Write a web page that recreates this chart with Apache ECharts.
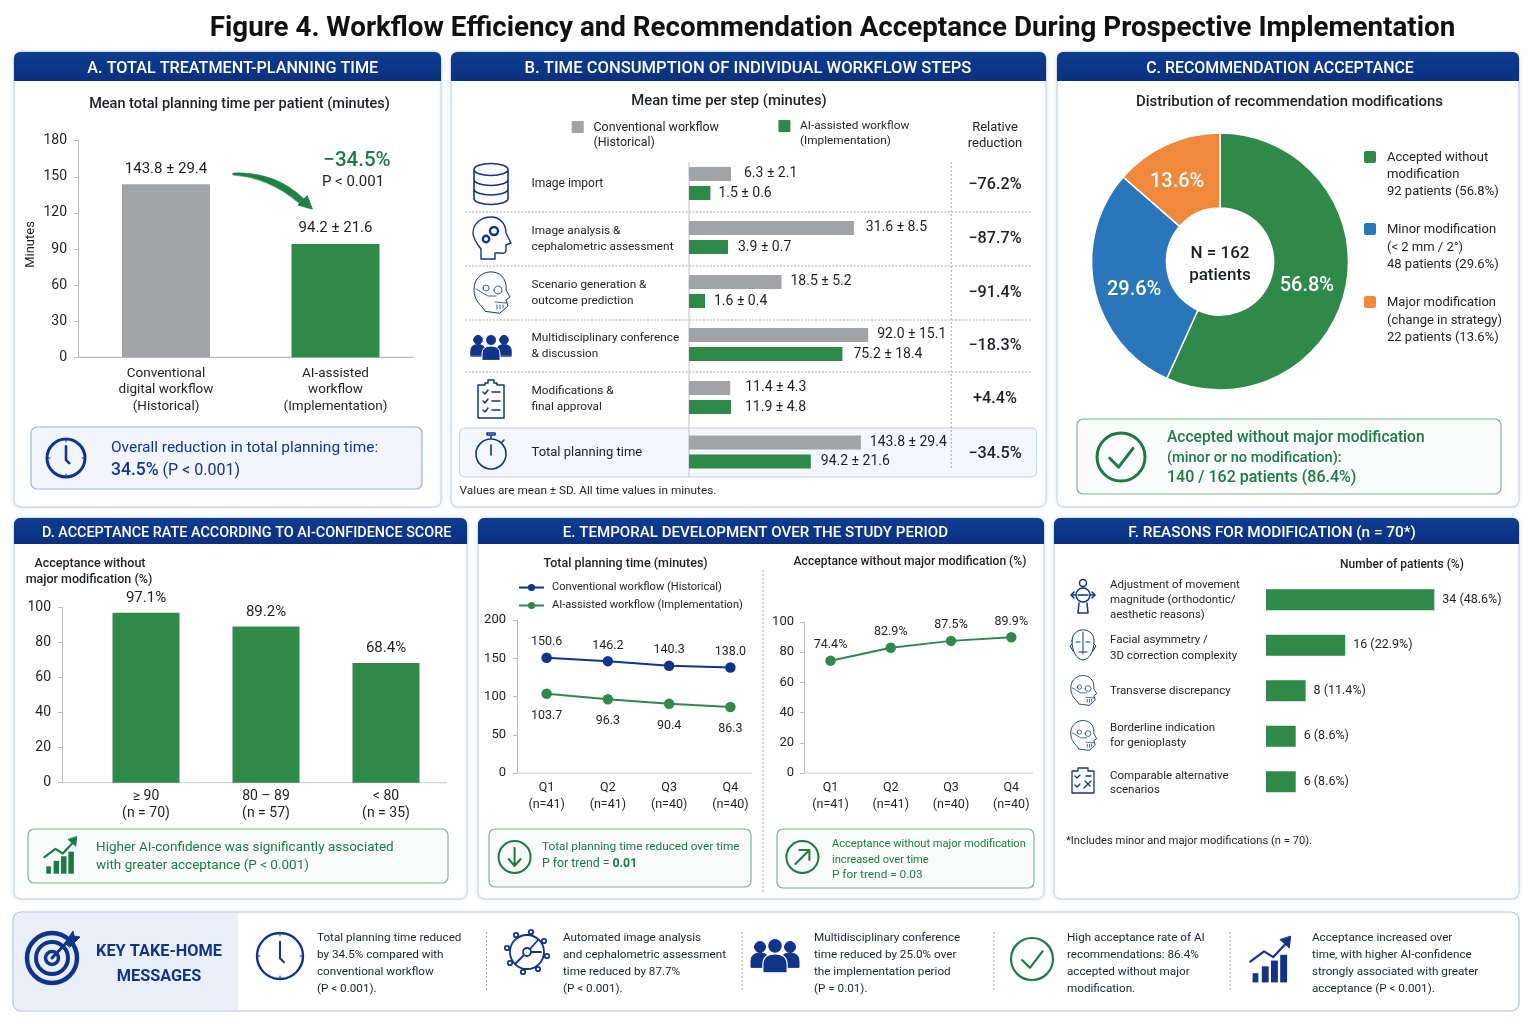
<!DOCTYPE html>
<html><head><meta charset="utf-8"><title>Figure 4</title>
<script src="https://cdn.jsdelivr.net/npm/echarts@6/dist/echarts.min.js"></script>
<style>html,body{margin:0;padding:0;background:#fff}#c{width:1536px;height:1024px}</style></head>
<body><div id="c"></div>
<script>
// ---------- DATA ----------
const figureTitle = 'Figure 4. Workflow Efficiency and Recommendation Acceptance During Prospective Implementation';
const totalCats = ['Conventional\ndigital workflow\n(Historical)', 'AI-assisted\nworkflow\n(Implementation)'];
const totalMeans = [143.8, 94.2];
const totalSDs = [29.4, 21.6];
const stepNames = [['Image import'], ['Image analysis &', 'cephalometric assessment'], ['Scenario generation &', 'outcome prediction'], ['Multidisciplinary conference', '& discussion'], ['Modifications &', 'final approval'], ['Total planning time']];
const stepConvMeans = [6.3, 31.6, 18.5, 92.0, 11.4, 143.8];
const stepConvSDs = [2.1, 8.5, 5.2, 15.1, 4.3, 29.4];
const stepAIMeans = [1.5, 3.9, 1.6, 75.2, 11.9, 94.2];
const stepAISDs = [0.6, 0.7, 0.4, 18.4, 4.8, 21.6];
const stepReductions = ['−76.2%', '−87.7%', '−91.4%', '−18.3%', '+4.4%', '−34.5%'];
const acceptNames = ['Accepted without modification', 'Minor modification', 'Major modification'];
const acceptCounts = [92, 48, 22];
const acceptPct = ['56.8%', '29.6%', '13.6%'];
const acceptLegend = [['Accepted without', 'modification', '92 patients (56.8%)'], ['Minor modification', '(< 2 mm / 2°)', '48 patients (29.6%)'], ['Major modification', '(change in strategy)', '22 patients (13.6%)']];
const confCats = ['≥ 90\n(n = 70)', '80 – 89\n(n = 57)', '< 80\n(n = 35)'];
const confRates = [97.1, 89.2, 68.4];
const quarterCats = ['Q1\n(n=41)', 'Q2\n(n=41)', 'Q3\n(n=40)', 'Q4\n(n=40)'];
const timeConv = [150.6, 146.2, 140.3, 138.0];
const timeAI = [103.7, 96.3, 90.4, 86.3];
const acceptTrend = [74.4, 82.9, 87.5, 89.9];
const reasonNames = [['Adjustment of movement', 'magnitude (orthodontic/', 'aesthetic reasons)'], ['Facial asymmetry /', '3D correction complexity'], ['Transverse discrepancy'], ['Borderline indication', 'for genioplasty'], ['Comparable alternative', 'scenarios']];
const reasonCounts = [34, 16, 8, 6, 6];
const reasonPct = ['48.6%', '22.9%', '11.4%', '8.6%', '8.6%'];
const takeHome = [
  ['Total planning time reduced', 'by 34.5% compared with', 'conventional workflow', '(P < 0.001).'],
  ['Automated image analysis', 'and cephalometric assessment', 'time reduced by 87.7%', '(P < 0.001).'],
  ['Multidisciplinary conference', 'time reduced by 25.0% over', 'the implementation period', '(P = 0.01).'],
  ['High acceptance rate of AI', 'recommendations: 86.4%', 'accepted without major', 'modification.'],
  ['Acceptance increased over', 'time, with higher AI-confidence', 'strongly associated with greater', 'acceptance (P < 0.001).']
];

// ---------- STYLE ----------
const FONT = 'Roboto, "Noto Sans", sans-serif';
const NAVY = '#11338a', GREEN = '#2f8a4a', GREY = '#a1a3a7', BLUE = '#2a76bb', ORANGE = '#f0893b', DGREEN = '#1d7a45', INK = '#1c1f26', AXIS = '#b9bcc2';
const g = [];
let pathCount = 0;
const T = (s, x, y, size, o = {}) => g.push({ type: 'text', silent: true, x, y: y + 1.5, style: { text: s, fontSize: size, fontFamily: FONT, fontWeight: o.w || 400, fill: o.c || INK, align: o.a || 'left', verticalAlign: 'middle', rich: o.rich } });
const R = (x, y, w, h, o = {}) => g.push({ type: 'rect', silent: true, shape: { x, y, width: w, height: h, r: o.r || 0 }, style: { fill: o.f || 'none', stroke: o.s || null, lineWidth: o.lw || 1, shadowBlur: o.sb || 0, shadowColor: o.sc || 'transparent' } });
const L = (x1, y1, x2, y2, o = {}) => g.push({ type: 'line', silent: true, shape: { x1, y1, x2, y2 }, style: { stroke: o.s || AXIS, lineWidth: o.lw || 1, lineDash: o.d || null } });
const P = (d, x, y, o = {}) => {
  const name = 'iconPath' + (pathCount++);
  echarts.graphic.registerShape(name, echarts.graphic.extendPath(d));
  g.push({ type: name, silent: true, x, y, style: { fill: o.f || 'none', stroke: o.s === undefined ? NAVY : o.s, lineWidth: o.lw === undefined ? 1.5 : o.lw, lineCap: 'round', lineJoin: 'round' } });
};
const circ = (cx, cy, r) => `M${cx - r},${cy} a${r},${r} 0 1,0 ${2 * r},0 a${r},${r} 0 1,0 ${-2 * r},0 Z`;
const person = (x, y, s) => circ(x, y - 9 * s, 5.5 * s) + `M${x - 9 * s},${y + 11 * s} V${y + 5 * s} Q${x - 9 * s},${y - 3 * s} ${x},${y - 3 * s} Q${x + 9 * s},${y - 3 * s} ${x + 9 * s},${y + 5 * s} V${y + 11 * s} Z`;

function panel(x, y, w, h, head, hh, cx, fs) {
  R(x, y, w, h, { f: '#fff', s: '#bfd0ea', r: 7, sb: 4, sc: 'rgba(120,150,200,.25)' });
  g.push({ type: 'rect', silent: true, shape: { x, y, width: w, height: hh, r: [6, 6, 0, 0] }, style: { fill: new echarts.graphic.LinearGradient(0, 0, 0, 1, [{ offset: 0, color: '#0e3d91' }, { offset: 1, color: '#0b3080' }]) } });
  T(head, cx, y + hh / 2 + 0.7, fs, { w: 500, c: '#fff', a: 'center' });
}
const callout = (x, y, w, h, green) => R(x, y, w, h, { f: green ? '#f8fbf9' : '#f2f6fb', s: green ? '#7db492' : '#97b5de', r: 6, lw: 1.2 });

function clock(x, y, r, lw) {
  P(circ(0, 0, r), x, y, { lw });
  P(`M0,${-r * .62} L0,${r * .1} L${r * .17},${r * .27}`, x, y, { lw: lw * .85 });
  P(`M0,${-r} V${-r + 3} M0,${r} V${r - 3} M${-r},0 H${-r + 3} M${r},0 H${r - 3}`, x, y, { lw: 1 });
}
function checkCircle(x, y, r, lw) {
  P(circ(0, 0, r), x, y, { s: DGREEN, lw });
  P(`M${-r * .47},${r * .05} L${-r * .1},${r * .42} L${r * .5},${-r * .36}`, x, y, { s: DGREEN, lw });
}
function barsUp(x, y, c, s) {
  const b = [[-16, 8, 5], [-8, 2, 6], [0, -3, 6], [8, -8, 6]];
  b.forEach(a => R(x + a[0] * s, y + a[1] * s, a[2] * s, (16 - a[1]) * s, { f: c }));
  P(`M${-18 * s},${-2 * s} L${-6 * s},${-11 * s} L${2 * s},${-6 * s} L${15 * s},${-20 * s}`, x, y, { s: c, lw: 2.2 });
  P(`M${17 * s},${-24 * s} L${16 * s},${-14 * s} L${8 * s},${-21 * s} Z`, x, y, { s: c, f: c, lw: 1 });
}
function headProfile(x, y, lw) {
  P('M-10,21 V11 C-14,6 -18,1 -18,-5 C-18,-15 -9,-21 0,-21 C10,-21 15,-13 15,-5 L20,5 L15,7 V12 Q15,16 10,15 L4,15 V21 H-10', x, y, { lw });
}
function skull(x, y, s, lw) {
  const k = v => v * s;
  P(`M${k(-6)},${k(19)} C${k(-10)},${k(12)} ${k(-17)},${k(10)} ${k(-17)},${k(-3)} C${k(-17)},${k(-15)} ${k(-7)},${k(-21)} ${k(2)},${k(-20)} C${k(12)},${k(-19)} ${k(16)},${k(-10)} ${k(15)},${k(-2)} L${k(19)},${k(5)} L${k(15)},${k(8)} L${k(17)},${k(14)} L${k(9)},${k(21)} Z`, x, y, { lw });
  P(`${circ(k(7), k(-2), k(4))} ${circ(k(-5), k(-4), k(3))} M${k(-15)},${k(-3)} L${k(-3)},${k(4)} L${k(5)},${k(4)} M${k(4)},${k(10)} L${k(15)},${k(11)} M${k(6)},${k(13)} V${k(17)} M${k(9)},${k(13)} V${k(17)} M${k(12)},${k(13)} V${k(16)}`, x, y, { lw: lw * .8 });
}

// ---------- CANVAS FRAME ----------
T(figureTitle, 832.5, 27.5, 27.75, { w: 700, c: '#111', a: 'center' });
panel(14, 52, 427, 455, 'A. TOTAL TREATMENT-PLANNING TIME', 29, 232.8, 16.2);
panel(451, 52, 595, 455, 'B. TIME CONSUMPTION OF INDIVIDUAL WORKFLOW STEPS', 29, 748, 16.6);
panel(1057, 52, 462, 455, 'C. RECOMMENDATION ACCEPTANCE', 29, 1280, 15.9);
panel(14, 518, 453, 381, 'D. ACCEPTANCE RATE ACCORDING TO AI-CONFIDENCE SCORE', 26, 246.7, 14.4);
panel(478, 518, 566, 381, 'E. TEMPORAL DEVELOPMENT OVER THE STUDY PERIOD', 26, 755.4, 15.1);
panel(1054, 518, 465, 381, 'F. REASONS FOR MODIFICATION (n = 70*)', 26, 1272, 15.3);

// ---------- ECHARTS CONTAINERS ----------
const grid = [], xAxis = [], yAxis = [], series = [];
const tickLab = (size, margin) => ({ color: INK, fontSize: size, fontFamily: FONT, margin });
function vertGrid(left, width, top, height, max, interval, cats, opts) {
  const idx = grid.length;
  grid.push({ left, width, top, height });
  xAxis.push({ gridIndex: idx, type: 'category', data: cats, axisLine: { show: false }, axisTick: { show: false }, axisLabel: { ...tickLab(opts.xFont, opts.xMargin), lineHeight: opts.lh, interval: 0 } });
  yAxis.push({ gridIndex: idx, type: 'value', min: 0, max, interval, offset: opts.off, axisLine: { show: true, lineStyle: { color: AXIS } }, axisTick: { show: true, length: 4, lineStyle: { color: AXIS } }, splitLine: { show: false }, axisLabel: tickLab(opts.yFont, opts.yMargin) });
  return { x: xAxis.length - 1, y: yAxis.length - 1 };
}

// Panel A
T('Mean total planning time per patient (minutes)', 239.5, 103, 14.5, { w: 500, a: 'center' });
const ga = vertGrid(81.25, 339, 140.7, 216.6, 180, 30, totalCats, { off: 3.25, xFont: 13.5, xMargin: 8, lh: 16.5, yFont: 14, yMargin: 11 });
L(78, 357.3, 414, 357.3, { s: '#a9acb2' });
T('Minutes', 31, 243, 13);
g[g.length - 1].rotation = Math.PI / 2; g[g.length - 1].style.align = 'center';
series.push({ type: 'bar', name: 'Total planning time', xAxisIndex: ga.x, yAxisIndex: ga.y, barWidth: 88, z: 3,
  data: totalMeans.map((v, i) => ({ value: v, itemStyle: { color: i ? GREEN : GREY } })),
  label: { show: true, position: 'top', distance: 8, color: INK, fontSize: 15, fontFamily: FONT, formatter: p => `${totalMeans[p.dataIndex].toFixed(1)} ± ${totalSDs[p.dataIndex].toFixed(1)}` } });
T('−34.5%', 357, 159, 20.5, { w: 500, c: DGREEN, a: 'center' });
T('P < 0.001', 353, 181, 15, { a: 'center' });
P('M233,173 Q275,171 304,199 L299,203 Q268,177 233,175 Z', 0, 0, { s: '#1f8045', f: '#1f8045', lw: .5 });
P('M312,209 L298,205 L307,196 Z', 0, 0, { s: '#1f8045', f: '#1f8045', lw: 1 });
callout(31, 427, 391, 62);
clock(66, 458, 19, 3);
T('Overall reduction in total planning time:', 111, 447, 15.45, { c: NAVY });
T('{a|34.5%} {b|(P < 0.001)}', 111, 469, 16, { rich: { a: { fontSize: 17.5, fontWeight: 500, fill: NAVY, color: NAVY, fontFamily: FONT }, b: { fontSize: 16, fill: NAVY, color: NAVY, fontFamily: FONT } } });

// Panel B
T('Mean time per step (minutes)', 729, 100, 14.8, { w: 500, a: 'center' });
R(571.7, 121, 12, 12, { f: GREY, r: 1 }); R(778.4, 120, 12, 12, { f: GREEN, r: 1 });
T('Conventional workflow', 593.5, 126, 12.4); T('(Historical)', 593.5, 141, 12.4);
T('AI-assisted workflow', 800, 125, 11.8); T('(Implementation)', 800, 140, 11.8);
T('Relative', 995, 126, 13, { a: 'center' }); T('reduction', 995, 142, 13, { a: 'center' });
R(459.6, 428, 577, 49, { f: '#f3f6fb', s: '#bcd0ea', r: 5 });
[212, 266, 320, 372].forEach(y => L(465, y, 1030.5, y, { s: '#a8abb0', d: [2, 1.5] }));
L(689, 162, 689, 477, { s: '#c9cbd0', lw: 1.2 });
L(951.3, 162, 951.3, 470, { s: '#a8abb0', d: [2, 2] });
const rowY = [183.5, 237.5, 291.5, 344.5, 397.5, 452];
// The reference draws every bar of this table on its own unlabelled scale, so each bar has a hidden axis.
const hiddenMaxConv = [45, 57.5, 60, 154, 83, 251], hiddenMaxAI = [21, 30, 30, 147, 85, 232];
const convLabelGap = [13, 12, 9, 9, 15, 9], aiLabelGap = [8, 10, 9, 11, 14, 10];
stepNames.forEach((nm, r) => {
  const gi = grid.length, x0 = xAxis.length, y0 = yAxis.length;
  grid.push({ left: 689, width: 300, top: rowY[r] - 21, height: 42 });
  xAxis.push({ gridIndex: gi, type: 'value', min: 0, max: hiddenMaxConv[r], show: false, position: 'bottom' }, { gridIndex: gi, type: 'value', min: 0, max: hiddenMaxAI[r], show: false, position: 'top' });
  yAxis.push({ gridIndex: gi, type: 'category', inverse: true, show: false, data: [nm.join(' ')] });
  const lab = (m, s, dist) => ({ show: true, position: 'right', distance: dist, color: INK, fontSize: 14, fontFamily: FONT, formatter: `${m.toFixed(1)} ± ${s.toFixed(1)}` });
  series.push({ type: 'bar', name: 'Conventional workflow', xAxisIndex: x0, yAxisIndex: y0, barWidth: 14, barGap: '36%', z: 3, data: [stepConvMeans[r]], itemStyle: { color: GREY }, label: lab(stepConvMeans[r], stepConvSDs[r], convLabelGap[r]) });
  series.push({ type: 'bar', name: 'AI-assisted workflow', xAxisIndex: x0 + 1, yAxisIndex: y0, barWidth: 14, barGap: '36%', z: 3, data: [stepAIMeans[r]], itemStyle: { color: GREEN }, label: lab(stepAIMeans[r], stepAISDs[r], aiLabelGap[r]) });
  const y = rowY[r];
  if (nm.length === 1) T(nm[0], 531.5, y - 1, r === 5 ? 13 : 12);
  else { T(nm[0], 531.5, y - 7.5, 11.8); T(nm[1], 531.5, y + 8, 11.8); }
  T(stepReductions[r], 995, y, 16.2, { w: 500, a: 'center' });
});
T('Values are mean ± SD. All time values in minutes.', 459.6, 490, 11.8);
// B icons
P('M-17,-14.5 a17,6 0 1,0 34,0 a17,6 0 1,0 -34,0 M-17,-14.5 V14.5 a17,6 0 0,0 34,0 V-14.5 M-17,-4.5 a17,6 0 0,0 34,0 M-17,5 a17,6 0 0,0 34,0', 491, 184, { lw: 1.6 });
headProfile(491, 238, 1.4);
P(`${circ(3, -7, 4)} ${circ(-5, 1, 3.2)}`, 491, 238, { lw: 2.4 });
skull(491, 292, 1, 1);
P(person(-13, 2, .8) + person(13, 2, .8), 491, 345, { f: NAVY, s: NAVY, lw: 1 });
P(person(0, 4, 1), 491, 345, { f: NAVY, s: '#fff', lw: 1 });
P('M-13,-13 H-6 V-15 H-3 V-18 H3 V-15 H6 V-13 H13 V20 H-13 Z M-8,-6 L-6,-4 L-3,-8 M-8,3 L-6,5 L-3,1 M-8,12 L-6,14 L-3,10 M1,-6 H9 M1,3 H9 M1,12 H9', 491, 398, { lw: 1.5 });
P(circ(0, 3, 15) + ' M0,-12 V-16 M-4,-18 H4 V-16 H-4 Z M11,-9 L13,-11 M0,-6 V4', 491, 451, { lw: 1.6 });

// Panel C
T('Distribution of recommendation modifications', 1289.5, 101, 14.9, { w: 500, a: 'center' });
const pieLabelShift = [[-5, 5], [6, 9], [-4, 6]];
series.push({ type: 'pie', name: 'Recommendation acceptance', center: [1220, 261.5], radius: [53.5, 128.5], startAngle: 90, clockwise: true, z: 3,
  itemStyle: { borderColor: '#fff', borderWidth: 1.5 }, emphasis: { disabled: true }, labelLine: { show: false },
  label: { show: true, position: 'inside', color: '#fff', fontSize: 20, fontWeight: 500, fontFamily: FONT, formatter: p => acceptPct[p.dataIndex] },
  labelLayout: p => ({ dx: pieLabelShift[p.dataIndex][0], dy: pieLabelShift[p.dataIndex][1] }),
  data: acceptNames.map((n, i) => ({ name: n, value: acceptCounts[i], itemStyle: { color: [GREEN, BLUE, ORANGE][i] } })) });
T('N = 162', 1220, 252, 17, { w: 500, a: 'center' });
T('patients', 1220, 274, 17, { w: 500, a: 'center' });
[[157, [156, 173, 190]], [229, [228, 246, 263]], [302, [301, 319, 336]]].forEach((a, i) => {
  R(1364, a[0] - 6, 12, 12, { f: [GREEN, BLUE, ORANGE][i], r: 2 });
  acceptLegend[i].forEach((s, k) => T(s, 1387, a[1][k], 13));
});
callout(1077, 419, 424, 75, true);
checkCircle(1121, 457, 24, 3);
T('Accepted without major modification', 1167, 437, 15.6, { w: 500, c: DGREEN });
T('(minor or no modification):', 1167, 457, 14.6, { w: 500, c: DGREEN });
T('140 / 162 patients (86.4%)', 1167, 476, 16, { w: 500, c: DGREEN });

// Panel D
T('Acceptance without', 90, 562, 12.5, { w: 500, a: 'center' });
T('major modification (%)', 89, 578, 12.5, { w: 500, a: 'center' });
const gd = vertGrid(86, 360, 607.7, 175, 100, 20, confCats, { off: 24, xFont: 14, xMargin: 5, lh: 17, yFont: 14, yMargin: 11 });
L(62, 782.7, 447, 782.7, { s: '#c3c5ca' });
series.push({ type: 'bar', name: 'Acceptance rate', xAxisIndex: gd.x, yAxisIndex: gd.y, barWidth: 67, z: 3, data: confRates, itemStyle: { color: GREEN },
  label: { show: true, position: 'top', distance: 7, color: INK, fontSize: 15, fontFamily: FONT, formatter: p => p.value.toFixed(1) + '%' } });
callout(28, 829, 420, 54, true);
barsUp(61, 859, DGREEN, .92);
T('Higher AI-confidence was significantly associated', 96, 846, 13.5, { c: DGREEN });
T('with greater acceptance (P < 0.001)', 96, 864, 13.5, { c: DGREEN });

// Panel E
T('Total planning time (minutes)', 625.6, 562, 12.5, { w: 500, a: 'center' });
T('Acceptance without major modification (%)', 910, 560, 12.1, { w: 500, a: 'center' });
L(763, 570, 763, 892, { s: '#a8abb0', d: [2, 2] });
const ge1 = vertGrid(516, 245, 620, 153, 200, 50, quarterCats, { off: -1, xFont: 12.5, xMargin: 7, lh: 16.5, yFont: 13, yMargin: 11 });
L(517, 773, 752, 773, { s: '#c3c5ca' });
const lineSeries = (name, data, color, ax, pos, dist, fmt) => ({ type: 'line', name, xAxisIndex: ax.x, yAxisIndex: ax.y, data, z: 3, symbol: 'circle', symbolSize: 10.5, lineStyle: { color, width: 2 }, itemStyle: { color },
  label: { show: true, position: pos, distance: dist, color: INK, fontSize: 12.5, fontFamily: FONT, formatter: fmt } });
const fmt1 = p => p.value.toFixed(1);
series.push(lineSeries('Conventional workflow (Historical)', timeConv, NAVY, ge1, 'top', 4, fmt1));
series.push(lineSeries('AI-assisted workflow (Implementation)', timeAI, GREEN, ge1, 'bottom', 10, fmt1));
const ge2 = vertGrid(800.4, 241, 622, 151, 100, 20, quarterCats, { off: -3.6, xFont: 12.5, xMargin: 7, lh: 16.5, yFont: 13, yMargin: 10 });
L(804, 773, 1033, 773, { s: '#c3c5ca' });
series.push(lineSeries('Acceptance without major modification', acceptTrend, GREEN, ge2, 'top', 4, p => p.value.toFixed(1) + '%'));
callout(489, 829, 262, 58, true);
P(circ(0, 0, 16), 514.6, 857, { s: DGREEN, lw: 2 });
P('M0,-9 V8 M-6,2 L0,9 L6,2', 514.6, 857, { s: DGREEN, lw: 2 });
T('Total planning time reduced over time', 542, 846, 11.8, { c: DGREEN });
T('{n|P for trend = }{b|0.01}', 542, 862, 12.3, { c: DGREEN, rich: { n: { fontSize: 12.3, fill: DGREEN, color: DGREEN, fontFamily: FONT }, b: { fontWeight: 700, fontSize: 12.3, fill: DGREEN, color: DGREEN, fontFamily: FONT } } });
callout(777, 829, 257, 59, true);
P(circ(0, 0, 16), 802.4, 857, { s: DGREEN, lw: 2 });
P('M-7,7 L6,-6 M-3,-7 H7 V3', 802.4, 857, { s: DGREEN, lw: 2 });
T('Acceptance without major modification', 832, 843, 11.1, { c: DGREEN });
T('increased over time', 832, 858.5, 11.1, { c: DGREEN });
T('P for trend = 0.03', 832, 874, 11.8, { c: DGREEN });

// Panel F
T('Number of patients (%)', 1402, 563, 12, { w: 500, a: 'center' });
const gf = grid.length, gfx = xAxis.length, gfy = yAxis.length;
grid.push({ left: 1266, width: 247.5, top: 577, height: 227.5 });
xAxis.push({ gridIndex: gf, type: 'value', min: 0, max: 50, show: false });
yAxis.push({ gridIndex: gf, type: 'category', inverse: true, show: false, data: reasonNames.map(n => n.join(' ')) });
series.push({ type: 'bar', name: 'Reasons for modification', xAxisIndex: gfx, yAxisIndex: gfy, barWidth: 21, z: 3, data: reasonCounts, itemStyle: { color: GREEN },
  label: { show: true, position: 'right', distance: 8, color: INK, fontSize: 12.5, fontFamily: FONT, formatter: p => `${p.value} (${reasonPct[p.dataIndex]})` } });
const reasonY = [[584, 599, 613.5], [639, 654.5], [690], [727, 741.5], [774.5, 789]];
reasonNames.forEach((n, i) => n.forEach((s, k) => T(s, 1110, reasonY[i][k], 11.5)));
// F icons
P(circ(0, -16, 3.5) + circ(0, -4, 7) + ' M-11,-4 H-8 M8,-4 H11 M-5,-4 H5 M-4,4 L-5,14 H5 L4,4 M-9,-7 L-12,-4 L-9,-1 M9,-7 L12,-4 L9,-1', 1083, 599, { lw: 1.5 });
P('M-11,-5 C-11,-20 11,-20 11,-5 C11,5 7,13 0,14 C-7,13 -11,5 -11,-5 Z M-11,-2 L-13,0 L-10,5 M11,-2 L13,0 L10,5 M0,-14 V8 M-4,6 H4 M-7,-4 L-3,-4 M3,-4 L7,-4', 1083, 646, { lw: 1 });
skull(1083, 690, .72, .9);
skull(1083, 735, .72, .9);
P('M-11,-10 H-5 V-13 H5 V-10 H11 V12 H-11 Z M-8,-5 L-6,-3 L-3,-6 M3,-5 H8 M-8,4 L-6,6 L-3,3 M1,7 L8,0 M2,0 L7,5', 1083, 781, { lw: 1.3 });
T('*Includes minor and major modifications (n = 70).', 1066, 840, 11.2);

// Take-home band
R(13, 912, 1506, 99, { f: '#fff', s: '#a9c1e6', r: 8, lw: 1.2 });
g.push({ type: 'rect', silent: true, shape: { x: 14, y: 913, width: 224, height: 97, r: [7, 0, 0, 7] }, style: { fill: '#e9eff9' } });
P(circ(0, 0, 25), 52, 958, { lw: 4.5 });
P(circ(0, 0, 16), 52, 958, { lw: 4 });
P(circ(0, 0, 6.5), 52, 958, { lw: 3.5 });
P('M0,0 L17,-18', 52, 958, { lw: 3 });
P('M13,-15 L21,-27 L22,-22 L28,-21 L18,-11 Z', 52, 958, { f: NAVY, lw: 1 });
T('KEY TAKE-HOME', 159, 950, 16.3, { w: 700, c: NAVY, a: 'center' });
T('MESSAGES', 159, 975, 16.3, { w: 700, c: NAVY, a: 'center' });
[486.5, 742, 994, 1230].forEach(x => L(x, 932, x, 992, { s: '#a8abb0', d: [2, 2] }));
const thX = [317, 563, 814, 1067, 1312];
takeHome.forEach((lines, i) => lines.forEach((s, k) => T(s, thX[i], 936.5 + k * 17, 11.7, { c: '#1a2130' })));
clock(280, 956, 23, 2.4);
{
  let d = circ(0, 0, 17) + circ(0, 0, 4) + ' M3,-3 L11,-12 M-3,3 L-11,11 M4,0 H14';
  for (let a = 0; a < 8; a++) { const t = a * Math.PI / 4 + .2; d += circ(Math.round(20 * Math.cos(t)), Math.round(20 * Math.sin(t)), 2.2); }
  P(d, 527, 952, { lw: 1.8 });
}
P(person(-15, 3, 1) + person(15, 3, 1), 775, 953, { f: NAVY, lw: 1 });
P(person(0, 5, 1.35), 775, 953, { f: NAVY, s: '#fff', lw: 1.2 });
checkCircle(1032, 959, 21, 2.2);
barsUp(1271, 964, NAVY, 1.15);

// ---------- CHART ----------
const chart = echarts.init(document.getElementById('c'), null, { renderer: 'canvas' });
chart.setOption({
  animation: false, backgroundColor: '#fff', textStyle: { fontFamily: FONT },
  legend: { show: true, orient: 'vertical', left: 518, top: 582, padding: 0, itemWidth: 25, itemHeight: 9, itemGap: 7, selectedMode: false, textStyle: { fontSize: 11.1, color: INK, fontFamily: FONT, padding: [0, 0, 0, 3] },
    data: ['Conventional workflow (Historical)', 'AI-assisted workflow (Implementation)'] },
  graphic: { elements: g }, grid, xAxis, yAxis, series
});
</script></body></html>
